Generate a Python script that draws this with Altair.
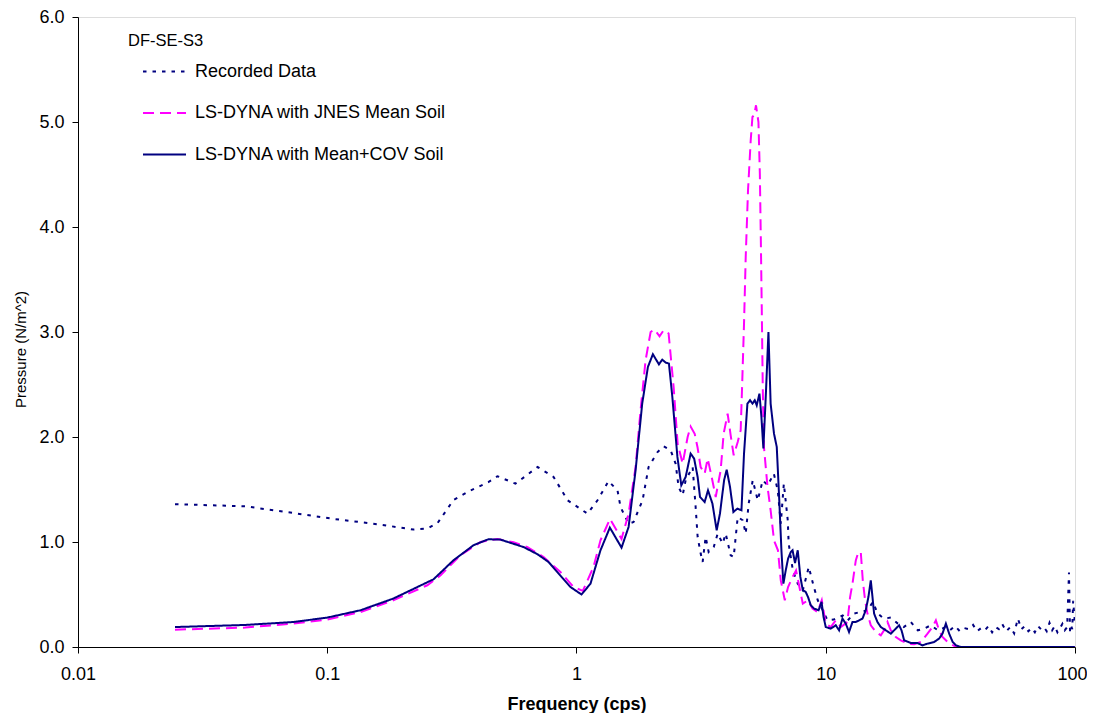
import altair as alt
import pandas as pd

FONT = "Liberation Sans"

series_names = ["Recorded Data", "LS-DYNA with JNES Mean Soil", "LS-DYNA with Mean+COV Soil"]
series_colors = ["#000080", "#FF00FF", "#000080"]
series_dash = [[3.5, 6], [11, 6], [1, 0]]

# Recorded Data (dotted)
rec_f = [0.0245, 0.0469, 0.0731, 0.106, 0.163, 0.222, 0.252, 0.277, 0.321, 0.375, 0.443, 0.482,
         0.569, 0.698, 0.809, 0.921, 1.107, 1.214, 1.344, 1.461, 1.502, 1.618, 1.694, 1.841,
         1.946, 2.115, 2.236, 2.386, 2.499, 2.568, 2.666, 2.741, 2.924, 3.006, 3.062, 3.148,
         3.207, 3.297, 3.390, 3.553, 3.685, 3.860, 3.968, 4.155, 4.272, 4.434, 4.644, 4.774,
         4.908, 5.094, 5.335, 5.588, 5.852, 6.19, 6.42, 6.60, 6.79, 7.04, 7.10, 7.38, 7.72,
         8.09, 8.55, 8.96, 9.29, 9.73, 10.16, 10.77, 11.7, 12.26, 12.96, 14.74, 15.44, 16.18,
         17.1, 18.24, 19.46, 20.57, 21.95, 23.4, 24.8, 26.4, 28.2, 30.3,
         31.5, 33, 34.5, 36, 37.5, 39, 40.5, 42, 43.5, 45, 46.5, 48, 49.5, 51, 53, 55, 57, 59,
         61, 63, 65, 67, 69, 71, 73, 75, 77, 79, 81, 83, 85, 87, 89, 91, 93, 94.6, 95.5, 96.5,
         97.5, 98.3, 99.2, 100]
rec_v = [1.36, 1.34, 1.276, 1.22, 1.166, 1.118, 1.128, 1.18, 1.40, 1.49, 1.57, 1.626,
         1.556, 1.714, 1.62, 1.397, 1.27, 1.397, 1.58, 1.49, 1.333, 1.175, 1.19, 1.397,
         1.714, 1.857, 1.911, 1.873, 1.746, 1.524, 1.445, 1.588, 1.714, 1.333, 1.048, 0.892,
         0.81, 1.048, 0.905, 0.952, 1.08, 0.985, 1.08, 0.873, 0.857, 1.238, 1.207, 1.08,
         1.366, 1.588, 1.397, 1.588, 1.54, 1.651, 1.492, 1.175, 1.556, 1.207, 0.985, 0.73, 0.603,
         0.54, 0.762, 0.571, 0.445, 0.35, 0.254, 0.261, 0.30, 0.254, 0.318, 0.35, 0.429, 0.318,
         0.27, 0.28, 0.223, 0.19, 0.238, 0.159, 0.175, 0.207, 0.159, 0.19,
         0.16, 0.20, 0.15, 0.18, 0.17, 0.21, 0.15, 0.18, 0.16, 0.20, 0.14, 0.19, 0.17, 0.22, 0.15,
         0.19, 0.13, 0.27, 0.17, 0.20, 0.15, 0.18, 0.14, 0.20, 0.17, 0.19, 0.15, 0.23, 0.16, 0.20,
         0.14, 0.18, 0.22, 0.16, 0.19, 0.71, 0.15, 0.20, 0.17, 0.44, 0.32, 0.20]

# LS-DYNA with JNES Mean Soil (dashed magenta)
jnes_f = [0.0245, 0.0469, 0.0731, 0.1, 0.136, 0.184, 0.252, 0.285, 0.342, 0.412, 0.482, 0.559,
          0.636, 0.738, 0.862, 0.973, 1.06, 1.17, 1.248, 1.363, 1.516, 1.618, 1.726, 1.807,
          1.893, 1.983, 2.057, 2.154, 2.236, 2.342, 2.453, 2.545, 2.666, 2.792, 2.87, 2.98,
          3.06, 3.148, 3.267, 3.36, 3.486, 3.618, 3.788, 3.894, 4.04, 4.155, 4.272, 4.434,
          4.557, 4.62, 4.70, 4.774, 4.877, 5.0, 5.08, 5.16, 5.25, 5.37, 5.44, 5.49, 5.536,
          5.588, 5.65, 5.84, 6.01, 6.20, 6.43, 6.60, 6.85, 7.06, 7.36, 7.60, 7.84, 8.09, 8.48,
          8.85, 9.27, 9.64, 10.0, 10.47, 10.97, 11.49, 12.22, 12.52, 12.80, 13.20, 13.48,
          13.82, 14.08, 14.38, 14.70, 15.16, 15.88, 16.63, 17.14, 17.69, 18.24, 19.10, 20.01,
          21.28, 22.63, 24.08, 25.6, 26.8, 27.66, 28.5, 29.4, 30.8, 33.3, 50, 100]
jnes_v = [0.165, 0.185, 0.223, 0.261, 0.333, 0.445, 0.588, 0.683, 0.873, 1.0, 1.029, 0.997,
          0.952, 0.857, 0.714, 0.571, 0.535, 0.762, 1.016, 1.22, 1.03, 1.27, 1.714, 2.254,
          2.73, 3.0, 3.023, 2.959, 3.016, 2.985, 2.476, 1.937, 1.746, 2.0, 2.1, 2.03,
          1.9, 1.714, 1.651, 1.794, 1.619, 1.429, 1.683, 2.032, 2.222, 2.016, 1.826, 1.952,
          2.064, 2.5, 3.08, 3.714, 4.35, 4.826, 5.048, 5.064, 5.159, 5.0, 4.508, 3.873, 3.238,
          2.476, 1.905, 1.524, 1.302, 1.016, 0.921, 0.635, 0.445, 0.571, 0.667, 0.73, 0.571,
          0.413, 0.445, 0.365, 0.333, 0.445, 0.223, 0.19, 0.254, 0.19, 0.238, 0.476, 0.603,
          0.825, 0.895, 0.905, 0.635, 0.445, 0.318, 0.207, 0.143, 0.111, 0.159, 0.238, 0.159,
          0.095, 0.064, 0.032, 0.026, 0.048, 0.127, 0.19, 0.254, 0.159, 0.095, 0.048, 0.0,
          0.0, 0.0]

# LS-DYNA with Mean+COV Soil (solid navy)
cov_f = [0.0245, 0.0469, 0.0731, 0.1, 0.136, 0.184, 0.267, 0.321, 0.386, 0.443, 0.495, 0.613,
         0.698, 0.772, 0.946, 1.047, 1.138, 1.248, 1.361, 1.516, 1.618, 1.726, 1.835, 1.934,
         2.025, 2.141, 2.208, 2.278, 2.349, 2.424, 2.54, 2.633, 2.741, 2.87, 2.965, 3.062,
         3.13, 3.267, 3.37, 3.51, 3.651, 3.763, 3.91, 4.005, 4.13, 4.26, 4.42, 4.59, 4.70,
         4.85, 4.97, 5.08, 5.19, 5.286, 5.42, 5.52, 5.62, 5.76, 5.89, 6.01, 6.20, 6.36, 6.50,
         6.64, 6.76, 6.91, 7.06, 7.24, 7.36, 7.53, 7.72, 7.91, 8.09, 8.31, 8.49, 8.71, 8.99,
         9.36, 9.62, 9.80, 10.0, 10.47, 10.97, 11.31, 11.67, 12.03, 12.40, 12.80, 13.20,
         13.61, 14.04, 14.47, 14.83, 15.16, 15.40, 15.63, 16.12, 16.63, 17.42, 18.24, 19.10,
         19.69, 20.14, 20.63, 21.95, 23.33, 24.43, 25.6, 27.23, 28.5, 29.4, 30.34, 31.27,
         32.3, 33.3, 34.86, 50, 100]
cov_v = [0.19, 0.21, 0.238, 0.28, 0.35, 0.461, 0.645, 0.826, 0.969, 1.026, 1.023, 0.952,
         0.883, 0.81, 0.571, 0.50, 0.603, 0.921, 1.137, 0.946, 1.143, 1.683, 2.318, 2.667,
         2.788, 2.692, 2.737, 2.709, 2.699, 2.381, 1.81, 1.54, 1.619, 1.842, 1.794, 1.619,
         1.429, 1.381, 1.492, 1.366, 1.111, 1.27, 1.588, 1.689, 1.524, 1.286, 1.318, 1.302,
         1.842, 2.318, 2.35, 2.318, 2.35, 2.302, 2.413, 2.19, 1.89, 2.445, 3.0, 2.318, 2.032,
         1.905, 1.429, 0.921, 0.603, 0.73, 0.841, 0.905, 0.921, 0.80, 0.921, 0.667, 0.54,
         0.524, 0.476, 0.397, 0.365, 0.35, 0.429, 0.286, 0.19, 0.175, 0.207, 0.159, 0.27,
         0.223, 0.143, 0.238, 0.238, 0.254, 0.27, 0.35, 0.476, 0.635, 0.476, 0.318, 0.238,
         0.19, 0.159, 0.127, 0.175, 0.207, 0.159, 0.064, 0.038, 0.038, 0.016, 0.032, 0.048,
         0.08, 0.127, 0.223, 0.127, 0.048, 0.016, 0.0, 0.0, 0.0]

x_ticks = [0.01, 0.1, 1, 10, 100]
y_ticks = [0, 1, 2, 3, 4, 5, 6]

frames = []
for name, fs, vs in [(series_names[0], rec_f, rec_v),
                     (series_names[1], jnes_f, jnes_v),
                     (series_names[2], cov_f, cov_v)]:
    frames.append(pd.DataFrame({"freq": fs, "pressure": vs, "series": name,
                                "idx": range(len(fs))}))
df = pd.concat(frames, ignore_index=True)

legend = alt.Legend(
    title="DF-SE-S3", orient="none", legendX=50, legendY=16, padding=0,
    titleFont=FONT, titleFontSize=16.5, titleFontWeight="normal", titleColor="black",
    titlePadding=12, labelFont=FONT, labelFontSize=18, labelColor="black",
    symbolType="stroke", symbolSize=1849, symbolStrokeWidth=2, symbolOffset=14,
    labelOffset=8, rowPadding=21.5, clipHeight=20, labelLimit=500,
)

x_enc = alt.X("freq:Q", scale=alt.Scale(type="log", domain=[0.01, 100]),
              axis=alt.Axis(title="Frequency (cps)", values=x_ticks, format="~g", grid=False,
                            tickSize=6, labelPadding=12, labelFlush=False,
                            labelOffset={"condition": {"test": "datum.value >= 100", "value": -3},
                                         "value": 0},
                            domainColor="black", tickColor="black",
                            labelFont=FONT, labelFontSize=18, labelColor="black",
                            titleFont=FONT, titleFontSize=18, titleFontWeight="bold",
                            titleColor="black", titleX=498.5, titleY=62,
                            titleBaseline="alphabetic", titleAlign="center"))
y_enc = alt.Y("pressure:Q", scale=alt.Scale(domain=[0, 6], nice=False),
              axis=alt.Axis(title="Pressure (N/m^2)", values=y_ticks, format=".1f", grid=False,
                            tickSize=6, labelPadding=8, domainColor="black", tickColor="black",
                            labelFont=FONT, labelFontSize=18, labelColor="black",
                            titleFont=FONT, titleFontSize=15, titleFontWeight="normal",
                            titleColor="black", titleX=-53, titleY=332, titleAngle=270,
                            titleBaseline="alphabetic", titleAlign="center"))
color_enc = alt.Color("series:N", scale=alt.Scale(domain=series_names, range=series_colors),
                      legend=legend)
dash_enc = alt.StrokeDash("series:N", scale=alt.Scale(domain=series_names, range=series_dash),
                          legend=legend)

layers = []
for name in series_names:
    layers.append(
        alt.Chart(df).transform_filter(alt.datum.series == name)
        .mark_line(strokeWidth=2, clip=True)
        .encode(x=x_enc, y=y_enc, color=color_enc, strokeDash=dash_enc,
                order=alt.Order("idx:Q"))
    )

chart = alt.layer(*layers).properties(
    width=997, height=630,
    autosize=alt.AutoSizeParams(type="none"),
    padding={"left": 70, "top": 9, "right": 12, "bottom": 66},
).configure_view(stroke=None).configure(background="white")

chart.save("out.html", embed_options={"renderer": "svg", "actions": False})
